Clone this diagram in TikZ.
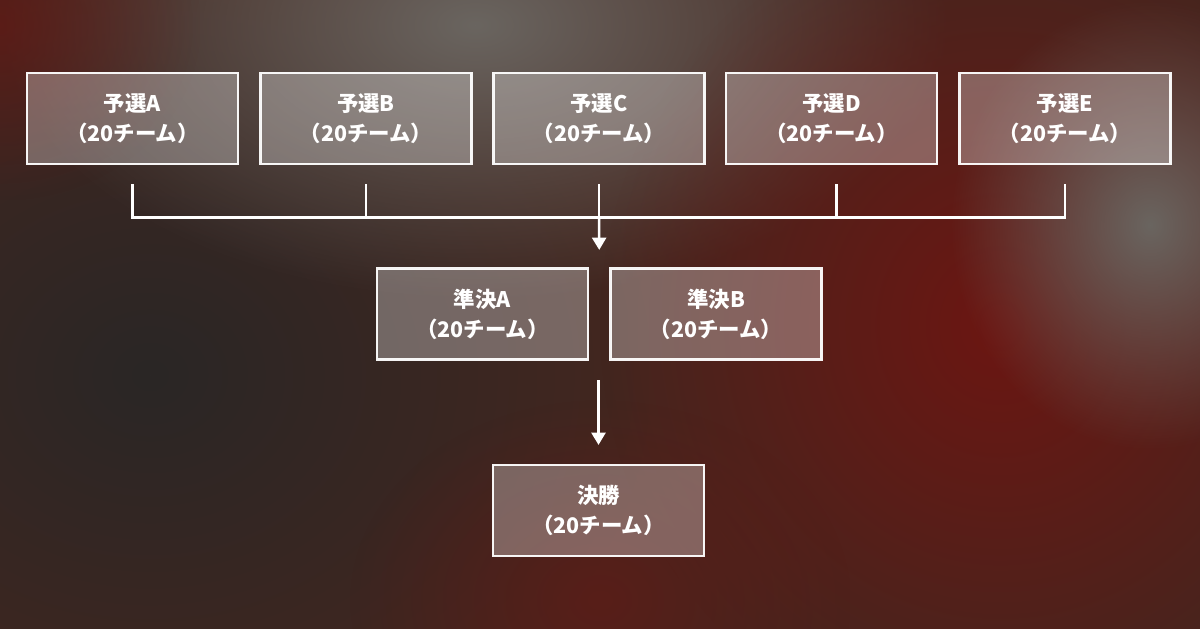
\documentclass[tikz,border=0pt]{standalone}
\usepackage{fontspec}
\newfontfamily\jpfont{Noto Sans CJK JP}
\usepackage{tikz}
\usetikzlibrary{arrows.meta,fadings,calc}
\definecolor{bgbase}{HTML}{44261F}
\definecolor{bggray}{HTML}{6A6560}
\definecolor{bgdark}{HTML}{2A2726}
\definecolor{bgred}{HTML}{6C1612}
\tikzfading[name=softblob, inner color=transparent!0, outer color=transparent!100]

\begin{document}
\begin{tikzpicture}[stagebox/.style={draw=white, line width=1.25pt, fill=white, fill opacity=0.3, draw opacity=0.95, text opacity=1, text=white, minimum width=4.22cm, minimum height=1.82cm, align=center, font=\jpfont\bfseries\fontsize{12.2}{17}\selectfont},
    link/.style={draw=white, line width=1.4pt},
    arrow/.style={link, -{Triangle[width=8pt,length=7pt]}},
    blob/.style={path fading=softblob}]

    \useasboundingbox (0,0) rectangle (24,-12.56);

    % background
    \begin{scope}
    \clip (-0.2,0.2) rectangle (24.2,-12.8);
    \fill[bgbase] (-0.2,0.2) rectangle (24.2,-12.8);
    \fill[bgdark, blob] (-7,1) rectangle (13,-16);
    \fill[bggray, blob] (0,5) rectangle (19,-6);
    \fill[bgred, blob] (12,2) rectangle (28,-15);
    \fill[bggray, blob] (19,-0) rectangle (27,-9);
    \fill[bgred, opacity=0.6, blob] (-4,3) rectangle (4,-4);
    \fill[bgred, opacity=0.5, blob] (7,-8) rectangle (17,-16);
    \end{scope}

    % qualifiers
    \node[stagebox](yA) at (2.65,-2.37) {予選A\\（20チーム）};
    \node[stagebox](yB) at (7.32,-2.37) {予選B\\（20チーム）};
    \node[stagebox](yC) at (11.98,-2.37) {予選C\\（20チーム）};
    \node[stagebox](yD) at (16.63,-2.37) {予選D\\（20チーム）};
    \node[stagebox](yE) at (21.30,-2.37) {予選E\\（20チーム）};

    % semifinals
    \node[stagebox](sA) at (9.65,-6.28) {準決A\\（20チーム）};
    \node[stagebox](sB) at (14.32,-6.28) {準決B\\（20チーム）};

    % final
    \node[stagebox](f) at (11.97,-10.21) {決勝\\（20チーム）};

    \foreach \n/\dx in {yA/0,yB/0,yC/0,yD/0.1,yE/0}{
        \coordinate (\n t) at ($(\n.south)+(\dx,-0.38)$);
        \coordinate (\n b) at ($(\n.south)+(\dx,-1.05)$);
    }
    \coordinate (m1) at (11.97,-7.6);

            \draw[link] (yAt) -- (yAb) -- (yEb) -- (yEt);
            \draw[link] (yBt) -- (yBb);
            \draw[link] (yCt) -- (yCb);
            \draw[link] (yDt) -- (yDb);
            \draw[arrow] (yCb) -- ($(sA.north)!0.5!(sB.north)+(0,0.35)$);
            \draw[arrow] (m1) -- ($(f.north)+(0,0.38)$);

\end{tikzpicture}
\end{document}
